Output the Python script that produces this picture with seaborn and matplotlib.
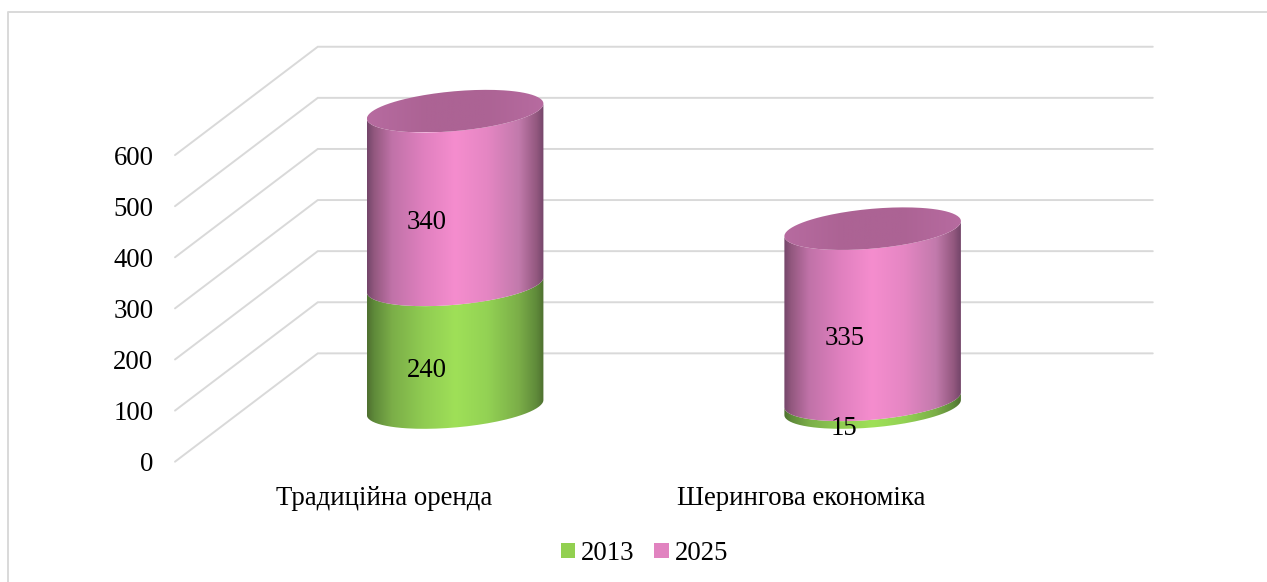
import numpy as np
import pandas as pd
import matplotlib
matplotlib.use("Agg")
import matplotlib.pyplot as plt
import seaborn as sns
from matplotlib.colors import LinearSegmentedColormap
from matplotlib.lines import Line2D
from matplotlib.patches import Patch, PathPatch
from matplotlib.path import Path

categories = ["Традиційна оренда", "Шерингова економіка"]
years = ["2013", "2025"]
values_2013 = [240, 15]
values_2025 = [340, 335]
y_ticks = [0, 100, 200, 300, 400, 500, 600]

legend_colors = ["#92D050", "#E183C0"]
stops = [0, 0.04, 0.14, 0.32, 0.5, 0.68, 0.86, 0.96, 1]
shades = {
    "2013": ["#4F7030", "#5F8A3A", "#7BAE48", "#90CC52", "#9FE058",
             "#93D254", "#7BAE48", "#5F8A3A", "#4F7030"],
    "2025": ["#74466A", "#93587F", "#C072A8", "#E080BF", "#F58DCE",
             "#E586C3", "#C27AAC", "#93587F", "#74466A"],
}
cap_shade = ["#B76BA0", "#AC6394", "#AC6394", "#B76BA0"]

# 3d look, in data units: shift of the bars from the front wall plane, ellipse shape
DX, DY = 0.171, 106
ELL_B, ELL_S = 39, 14.7

sns.set_theme(style="white")
plt.rcParams["font.family"] = ["Liberation Serif"]
plt.rcParams["text.color"] = "black"

df = pd.DataFrame({
    "category": categories * 2,
    "year": [years[0]] * 2 + [years[1]] * 2,
    "value": values_2013 + values_2025,
})

fig = plt.figure(figsize=(12.67, 5.82), dpi=100)
ax = fig.add_axes([175 / 1267, (582 - 461.7) / 582, 835 / 1267, 421.6 / 582])


def ellipse(cx, cy, a, t):
    return np.column_stack([cx + a * np.cos(t), cy + ELL_S * np.cos(t) + ELL_B * np.sin(t)])


def shaded(pts, x0, x1, colors):
    y0, y1 = pts[:, 1].min(), pts[:, 1].max()
    if len(colors) == len(stops):
        cmap = LinearSegmentedColormap.from_list("s", list(zip(stops, colors)))
    else:
        cmap = LinearSegmentedColormap.from_list("s", colors)
    im = ax.imshow(np.linspace(0, 1, 256)[None, :], cmap=cmap, extent=[x0, x1, y0, y1],
                   aspect="auto", interpolation="bilinear", zorder=3)
    clip = PathPatch(Path(np.vstack([pts, pts[0]])), transform=ax.transData)
    im.set_clip_path(clip)


# seaborn gives the stacked bars, the cylinders are built on their geometry
bottoms = np.zeros(len(categories))
for year, vals in zip(years, [values_2013, values_2025]):
    sns.barplot(data=df[df["year"] == year], x="category", y="value", width=0.4228,
                color=legend_colors[years.index(year)], bottom=bottoms, ax=ax)
    bottoms = bottoms + np.array(vals)

for i, year in enumerate(years):
    for bar in ax.containers[i]:
        bar.set_visible(False)
        x0 = bar.get_x() + DX
        w = bar.get_width()
        cx, a = x0 + w / 2, w / 2
        low, high = bar.get_y() + DY, bar.get_y() + bar.get_height() + DY
        t1 = np.linspace(np.pi, 2 * np.pi, 80)
        body = np.vstack([ellipse(cx, low, a, t1), ellipse(cx, high, a, t1[::-1])])
        shaded(body, x0, x0 + w, shades[year])
        if i == len(years) - 1:
            t2 = np.linspace(0, 2 * np.pi, 160)
            shaded(ellipse(cx, high, a, t2), x0, x0 + w, cap_shade)
        ax.text(cx - 0.068, (low + high) / 2 - 48, f"{bar.get_height():.0f}", ha="center",
                va="center", fontsize=19.3, color="black", zorder=6)

# walls
for v in y_ticks:
    ax.plot([-0.5, -0.5 + 2 * DX, 1.5 + 2 * DX], [v, v + 2 * DY, v + 2 * DY], color="#D9D9D9",
            lw=1.4, clip_on=False, zorder=1, solid_joinstyle="miter")

ax.set_xlim(-0.5, 1.5)
ax.set_ylim(0, 825)
ax.set_yticks(y_ticks)
ax.set_xlabel("")
ax.set_ylabel("")
ax.tick_params(axis="y", length=0, pad=15.5, labelsize=19.3, labelcolor="black")
ax.tick_params(axis="x", length=0, pad=17.5, labelsize=19.3, labelcolor="black")
ax.patch.set_alpha(0)
sns.despine(ax=ax, left=True, bottom=True)

handles = [Patch(facecolor=c, edgecolor="none", lw=0, label=y) for c, y in zip(legend_colors, years)]
fig.legend(handles=handles, ncol=2, loc="center", bbox_to_anchor=(644.5 / 1267, 1 - 553.5 / 582),
           frameon=False, fontsize=19.3, handlelength=0.54, handleheight=0.54,
           handletextpad=0.23, columnspacing=0.73, labelcolor="black")

# chart border, only left and top are inside the picture
fig.add_artist(Line2D([8 / 1267, 8 / 1267, 1], [0, 1 - 11.7 / 582, 1 - 11.7 / 582],
                      color="#D9D9D9", lw=1.4, transform=fig.transFigure))

fig.savefig("out.png", dpi=100)
